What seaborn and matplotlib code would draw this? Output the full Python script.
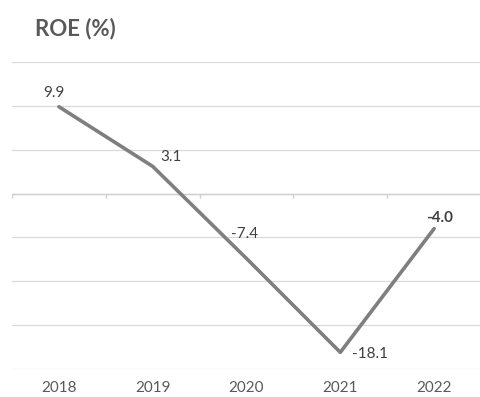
import matplotlib
matplotlib.use("Agg")
import matplotlib.pyplot as plt
import seaborn as sns
import pandas as pd

years = ["2018", "2019", "2020", "2021", "2022"]
roe = [9.9, 3.1, -7.4, -18.1, -4.0]
y_ticks = [-20, -15, -10, -5, 0, 5, 10, 15]

sns.set_theme(style="white")
plt.rcParams["font.family"] = ["Lato", "DejaVu Sans"]

df = pd.DataFrame({"year": years, "roe": roe})

fig = plt.figure(figsize=(4.81, 3.97), dpi=100)
ax = fig.add_axes([12 / 481, 1 - 369 / 397, 1 - 12 / 481, (369 - 62) / 397])

grid_color = "#d9d9d9"
text_color = "#595959"

sns.lineplot(data=df, x="year", y="roe", ax=ax, color="#7f7f7f",
             linewidth=2.6, sort=False, zorder=3)

ax.set_xlim(-0.5, len(years) - 0.5)
ax.set_ylim(y_ticks[0], y_ticks[-1])
ax.set_yticks(y_ticks)
ax.yaxis.grid(True, color=grid_color, linewidth=0.9)
ax.tick_params(axis="y", left=False, labelleft=False)
ax.tick_params(axis="x", bottom=False, length=0, labelsize=11,
               labelcolor=text_color, pad=9)
ax.set_xlabel("")
ax.set_ylabel("")
for s in ax.spines.values():
    s.set_visible(False)

# category axis through zero, with short ticks between categories
ax.axhline(0, color="#cfcfcf", linewidth=1.0, zorder=1)
ax.vlines([i - 0.5 for i in range(len(years) + 1)], 0, -0.5,
          color="#cfcfcf", linewidth=1.0, zorder=1)

# value labels
offsets = [(-5, 14), (18, 9), (-2, 24), (30, -2), (6, 11)]
for i, (v, off) in enumerate(zip(roe, offsets)):
    bold = i == len(roe) - 1
    ax.annotate(f"{v:.1f}", xy=(i, v), xytext=off, textcoords="offset pixels",
                ha="center", va="center", fontsize=11,
                color="#404040", fontweight="bold" if bold else "normal")

fig.text(35 / 481, 1 - 29 / 397, "ROE (%)", fontsize=16, fontweight="bold",
         color=text_color, ha="left", va="center")

fig.savefig("out.png", dpi=100)
